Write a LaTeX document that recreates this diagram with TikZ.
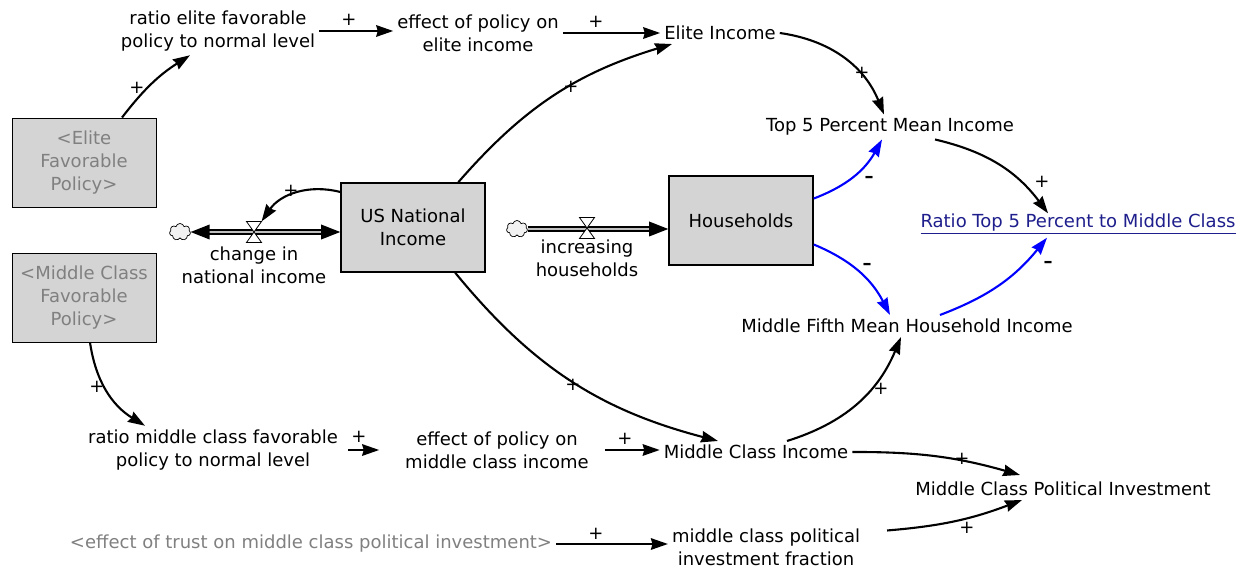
\documentclass[tikz,border=0pt]{standalone}
\usepackage{fontspec}
\setmainfont{DejaVu Sans}
\usetikzlibrary{arrows.meta}
\usetikzlibrary{positioning}
\usetikzlibrary{shapes.symbols}
\definecolor{stockgray}{RGB}{212,212,212}
\definecolor{ghostgray}{RGB}{128,128,128}
\definecolor{linkblue}{RGB}{30,30,140}
\tikzset{
    sdnode/.style = {align=center, inner sep=3pt, font=\fontsize{18}{23}\selectfont},
    sd_var/.style = {sdnode},% auxiliary
    sd_stock/.style = {sdnode, rectangle, draw=black, line width=1.6pt, fill=stockgray,
        minimum width=144pt, minimum height=89pt},% stock
    sd_shadow/.style = {sd_stock, line width=0.9pt, text=ghostgray},% shadow variable
    sd_ghost/.style = {sdnode, text=ghostgray},% shadow variable, no box
    sd_link/.style = {sdnode, text=linkblue},
    sd_pol/.style = {sdnode, inner sep=0pt},% polarity
    sd_cloud/.style = {cloud, cloud puffs=7, draw=black, line width=0.7pt, fill=gray!10,
        minimum width=21pt, minimum height=17pt, inner sep=0pt},
    sd_valve/.style = {inner sep=0pt, minimum width=13pt, minimum height=19pt},
    sd_pipe/.style = {-, double=gray!50, double distance=2.4pt, line width=1.5pt},
    sd_head/.style = {-, fill=black},% head of a flow
}

\begin{document}
\begin{tikzpicture}[x=1pt, y=1pt, line width=2.1pt, ->,
    >={Stealth[length=17pt, width=11.5pt, inset=1.5pt]}]
\useasboundingbox (0,0) rectangle (1249,-569);
% stocks and shadow variables
\node[sd_shadow] (elitePol) at (84,-162.5) {<Elite\\Favorable\\Policy>};
\node[sd_shadow] (mcPol) at (84,-297.5) {<Middle Class\\Favorable\\Policy>};
\node[sd_stock] (usni) at (413,-227.5) {US National\\Income};
\node[sd_stock] (hh) at (741,-220.5) {Households};
% auxiliaries
\node[sd_var] (ratioElite) at (218,-31) {ratio elite favorable\\policy to normal level};
\node[sd_var] (effElite) at (478,-33) {effect of policy on\\elite income};
\node[sd_var] (eliteInc) at (720,-33) {Elite Income};
\node[sd_var] (top5) at (890,-127) {Top 5 Percent Mean Income};
\node[sd_link] (ratioTop) at (1078,-224) {\underline{Ratio Top 5 Percent to Middle Class}};
\node[sd_var] (midFifth) at (907,-326) {Middle Fifth Mean Household Income};
\node[sd_var] (ratioMC) at (213,-450) {ratio middle class favorable\\policy to normal level};
\node[sd_var] (effMC) at (497,-450) {effect of policy on\\middle class income};
\node[sd_var] (mcInc) at (756,-452) {Middle Class Income};
\node[sd_var] (mcPI) at (1063,-489) {Middle Class Political Investment};
\node[sd_ghost] (trust) at (311,-544) {<effect of trust on middle class political investment>};
\node[sd_var] (mcFrac) at (766,-547) {middle class political\\investment fraction};
% flows
\node[sd_cloud] (cloudA) at (180,-232) {};
\node[sd_cloud] (cloudB) at (517,-229) {};
\node[sd_valve] (valveA) at (254,-232) {};
\node[sd_valve] (valveB) at (587,-228) {};
\node[sd_var] (chgNI) at (254,-265) {change in\\national income};
\node[sd_var] (incHH) at (587,-258) {increasing\\households};
\draw[sd_pipe] ([xshift=10pt]cloudA.east) -- ([xshift=-10pt]cloudA.east -| usni.west);
\fill[sd_head] (cloudA.east) -- ++(19,7.5) -- ++(0,-15) -- cycle;
\fill[sd_head] (cloudA.east -| usni.west) -- ++(-19,7.5) -- ++(0,-15) -- cycle;
\draw[-, fill=white, line width=0.8pt] (valveA.north west) -- (valveA.north east)
    -- (valveA.south west) -- (valveA.south east) -- cycle;
\draw[sd_pipe] (cloudB.east) -- ([xshift=-10pt]cloudB.east -| hh.west);
\fill[sd_head] (cloudB.east -| hh.west) -- ++(-19,7.5) -- ++(0,-15) -- cycle;
\draw[-, fill=white, line width=0.8pt] (valveB.north west) -- (valveB.north east)
    -- (valveB.south west) -- (valveB.south east) -- cycle;
% links
\draw ([xshift=38pt]elitePol.north) to[bend left=10] ([xshift=-28pt]ratioElite.south);
\draw (ratioElite.east) -- (ratioElite.east -| effElite.west);
\draw (effElite.east) -- (effElite.east -| eliteInc.west);
\draw (eliteInc.east) to[bend left=30] ([xshift=-6pt]top5.north);
\draw (usni.45) to[bend left=16] ([xshift=-48pt]eliteInc.south);
\draw (usni.154) to[bend right=35] (valveA.north east);
\draw (usni.-47) to[bend right=18] ([xshift=-38pt]mcInc.north);
\draw ([xshift=6pt]mcPol.south) to[bend right=25] ([xshift=-68pt]ratioMC.north);
\draw[shorten <=6pt, shorten >=22pt] (ratioMC.east) -- (ratioMC.east -| effMC.west);
\draw[shorten <=12pt] (effMC.east) -- (effMC.east -| mcInc.west);
\draw ([xshift=31pt]mcInc.north) to[bend right=25] ([xshift=-6pt]midFifth.south);
\draw (mcInc.east) to[bend left=8] ([xshift=-43pt,yshift=3pt]mcPI.north);
\draw ([xshift=23pt,yshift=-6pt]mcFrac.north east) to[bend right=8] ([xshift=-41pt]mcPI.south);
\draw (trust.east) -- (trust.east -| mcFrac.west);
\draw ([xshift=45pt]top5.south) to[bend left=20] ([xshift=-30pt,yshift=-3pt]ratioTop.north);
\draw[blue] ([yshift=22pt]hh.east) to[bend right=20] ([xshift=-8pt]top5.south);
\draw[blue] ([yshift=-24pt]hh.east) to[bend left=20] ([xshift=-17pt]midFifth.north);
\draw[blue] ([xshift=33pt]midFifth.north) to[bend right=15] ([xshift=-31pt]ratioTop.south);
% polarities
\node[sd_pol] (pol1) at (137,-88) {+};
\node[sd_pol] (pol2) at (349,-20) {+};
\node[sd_pol] (pol3) at (596,-22) {+};
\node[sd_pol] (pol4) at (862,-73) {+};
\node[sd_pol] (pol5) at (571,-87) {+};
\node[sd_pol] (pol6) at (291,-191) {+};
\node[sd_pol] (pol7) at (573,-385) {+};
\node[sd_pol] (pol8) at (97,-387) {+};
\node[sd_pol] (pol9) at (359,-437) {+};
\node[sd_pol] (pol10) at (625,-439) {+};
\node[sd_pol] (pol11) at (881,-389) {+};
\node[sd_pol] (pol12) at (962,-459) {+};
\node[sd_pol] (pol13) at (967,-528) {+};
\node[sd_pol] (pol14) at (596,-534) {+};
\node[sd_pol] (pol15) at (1042,-182) {+};
\node[sd_pol] (pol16) at (869,-179) {\textbf{–}};
\node[sd_pol] (pol17) at (867,-266) {\textbf{–}};
\node[sd_pol] (pol18) at (1048,-264) {\textbf{–}};
\end{tikzpicture}
\end{document}
